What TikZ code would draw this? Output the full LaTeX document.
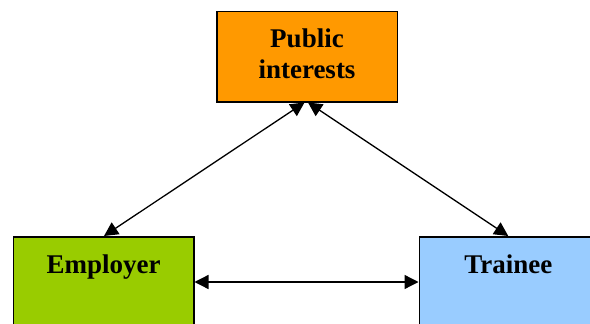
\documentclass[tikz,border=0pt]{standalone}
\usepackage{fontspec}
\setmainfont{Liberation Serif}
\usetikzlibrary{arrows.meta,calc}
\definecolor{puborange}{HTML}{FF9900}
\definecolor{empgreen}{HTML}{99CC00}
\definecolor{trblue}{HTML}{99CCFF}
\tikzset{
  box/.style={draw=black, line width=1.5pt, inner sep=0pt, align=center,
    font=\fontsize{27}{30.6}\selectfont\bfseries},
  arr/.style={line width=1.3pt, {Triangle[length=14pt,width=14pt]}-{Triangle[length=14pt,width=14pt]}}
}
\begin{document}
\begin{tikzpicture}[x=1pt,y=-1pt]
\useasboundingbox (0,0) rectangle (590,324);
\clip (0,0) rectangle (590,324);
\fill[white] (0,0) rectangle (590,324);
\node[box, fill=puborange, anchor=north west, minimum width=180.5pt, minimum height=90.5pt,
  text height=66.8pt, text depth=23.7pt] (pub) at (216,10.5) {Public\\interests};
\node[box, fill=empgreen, anchor=north west, minimum width=180.5pt, minimum height=104pt,
  text height=37pt, text depth=67pt] (emp) at (12.5,236) {Employer};
\node[box, fill=trblue, anchor=north west, minimum width=178pt, minimum height=104pt,
  text height=37pt, text depth=67pt] (tr) at (418.5,236) {Trainee};
\draw[arr] ([xshift=-2.5pt]pub.south) -- ([xshift=0.5pt]emp.north);
\draw[arr] ([xshift=1pt]pub.south) -- (tr.north);
\draw[arr] ([yshift=-46pt]emp.north east) -- ([yshift=-46pt]tr.north west);
\end{tikzpicture}
\end{document}
